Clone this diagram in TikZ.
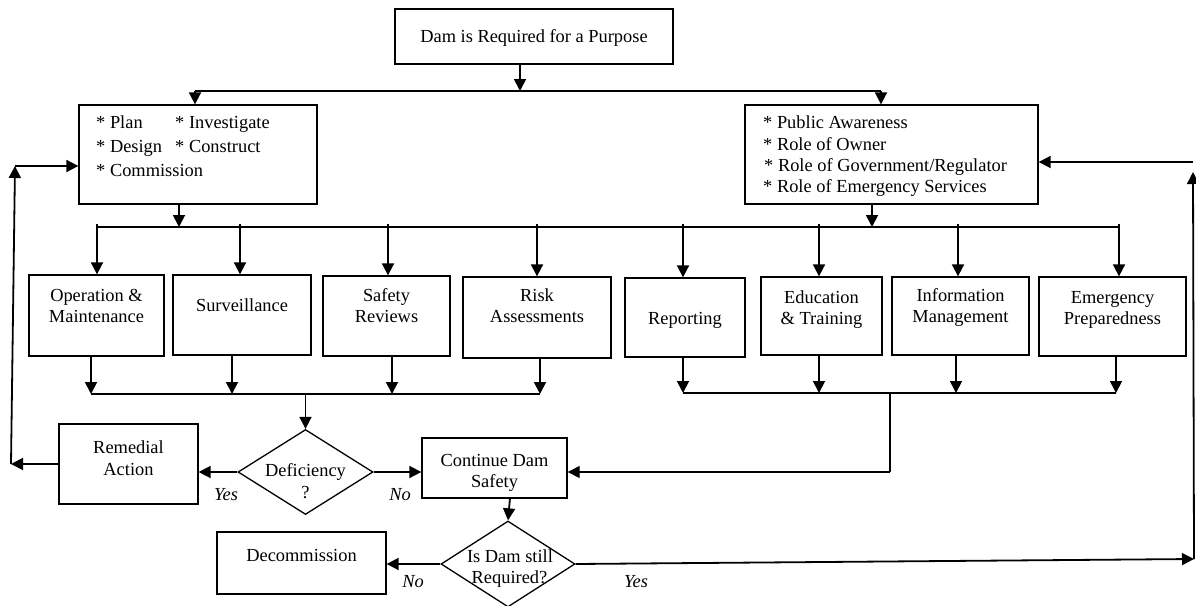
\documentclass[tikz,border=0pt]{standalone}
\usepackage{fontspec}
\setmainfont{Liberation Serif}
\usetikzlibrary{arrows.meta,shapes.geometric}
\begin{document}
\begin{tikzpicture}[x=1pt,y=-1pt,
  bx/.style={draw,line width=1.3pt,inner sep=0pt,rectangle},
  dm/.style={draw,line width=1.3pt,inner sep=0pt,diamond},
  t/.style={font=\fontsize{18.4}{21}\selectfont,inner sep=0pt,text height=13pt,text depth=4pt},
  lt/.style={t,anchor=west},
  it/.style={t,font=\fontsize{18.4}{21}\selectfont\itshape},
  arr/.style={line width=1.8pt,-{Triangle[length=12pt,width=12pt]}},
  thk/.style={line width=2.2pt},
  thn/.style={line width=1.2pt},
]
\useasboundingbox (0,0) rectangle (1196,605);

% boxes
\node[bx,minimum width=278pt,minimum height=55pt] (top) at (534,36.5) {};
\node[t] (topt) at (534,38) {Dam is Required for a Purpose};

\node[bx,minimum width=238pt,minimum height=99pt] (plan) at (198,154.5) {};
\node[lt] (p1) at (96,124) {* Plan};
\node[lt] (p2) at (175,124) {* Investigate};
\node[lt] (p3) at (96,148) {* Design};
\node[lt] (p4) at (175,148) {* Construct};
\node[lt] (p5) at (96,172) {* Commission};

\node[bx,minimum width=293pt,minimum height=99pt] (roles) at (891.5,154.5) {};
\node[lt] (r1) at (763,124) {* Public Awareness};
\node[lt] (r2) at (763,146) {* Role of Owner};
\node[lt] (r3) at (764,167) {* Role of Government/Regulator};
\node[lt] (r4) at (763,188) {* Role of Emergency Services};

\node[bx,minimum width=135pt,minimum height=81pt] (op) at (96.5,315.5) {};
\node[t] (op1) at (96.5,297) {Operation \&};
\node[t] (op2) at (96.5,318) {Maintenance};

\node[bx,minimum width=138pt,minimum height=80pt] (surv) at (242,315) {};
\node[t] (sv1) at (242,307) {Surveillance};

\node[bx,minimum width=127pt,minimum height=80pt] (safe) at (386.5,316) {};
\node[t] (sf1) at (386.5,297) {Safety};
\node[t] (sf2) at (386.5,318) {Reviews};

\node[bx,minimum width=148pt,minimum height=81pt] (risk) at (537,317.5) {};
\node[t] (rk1) at (537,297) {Risk};
\node[t] (rk2) at (537,318) {Assessments};

\node[bx,minimum width=120pt,minimum height=79pt] (rep) at (685,317.5) {};
\node[t] (rp1) at (685,320) {Reporting};

\node[bx,minimum width=121pt,minimum height=78pt] (edu) at (821.5,316) {};
\node[t] (ed1) at (821.5,299) {Education};
\node[t] (ed2) at (821.5,320) {\& Training};

\node[bx,minimum width=137pt,minimum height=78pt] (info) at (960.5,316) {};
\node[t] (in1) at (960.5,297) {Information};
\node[t] (in2) at (960.5,318) {Management};

\node[bx,minimum width=147pt,minimum height=79pt] (emer) at (1112.5,316.5) {};
\node[t] (em1) at (1112.5,299) {Emergency};
\node[t] (em2) at (1112.5,320) {Preparedness};

\node[bx,minimum width=139pt,minimum height=80pt] (rem) at (128.5,464) {};
\node[t] (rm1) at (128.5,449) {Remedial};
\node[t] (rm2) at (128.5,471) {Action};

\node[dm,minimum width=135pt,minimum height=85pt] (defi) at (305.5,472) {};
\node[t] (df1) at (305.5,472) {Deficiency};
\node[t] (df2) at (305.5,494) {?};

\node[bx,minimum width=145pt,minimum height=60pt] (cont) at (494.5,468) {};
\node[t] (ct1) at (494.5,462) {Continue Dam};
\node[t] (ct2) at (494.5,483) {Safety};

\node[dm,minimum width=134pt,minimum height=86pt] (isdam) at (508,564) {};
\node[t] (is1) at (510,558) {Is Dam still};
\node[t] (is2) at (509.5,579) {Required?};

\node[bx,minimum width=169pt,minimum height=62pt] (dec) at (301.5,563) {};
\node[t] (dc1) at (301.5,557) {Decommission};

\node[it] (yes1) at (226,496) {Yes};
\node[it] (no1) at (400,496) {No};
\node[it] (no2) at (413,583) {No};
\node[it] (yes2) at (636,583) {Yes};

% top branching
\coordinate (j1) at (520,91);
\coordinate (bl) at (195,91);
\coordinate (br) at (881,91);
\draw[arr] (top.south -| j1) -- (j1);
\draw[thk] (bl) -- (br);
\draw[arr] (bl) -- (bl |- plan.north);
\draw[arr] (br) -- (br |- roles.north);

% distribution line
\coordinate (j2) at (179,227);
\coordinate (j3) at (872,227);
\coordinate (dl) at (97,227);
\coordinate (dr) at (1119,227);
\draw[arr] (plan.south -| j2) -- (j2);
\draw[arr] (roles.south -| j3) -- (j3);
\draw[thn] (dl) -- (dr);
\foreach \x/\n in {97/op,240/surv,388/safe,537/risk,683/rep,819/edu,958/info,1119/emer}{
  \coordinate (c\n) at (\x,224);
  \draw[arr] (c\n) -- (c\n |- \n.north);
}

% merging lines
\foreach \x/\n/\y in {91/op/394,232/surv/394,392/safe/394,540/risk/394,683/rep/393,819/edu/393,956/info/393,1116/emer/393}{
  \coordinate (u\n) at (\x,\y);
  \draw[arr] (\n.south -| u\n) -- (u\n);
}
\draw[thn] (uop) -- (urisk);
\draw[thn] (urep) -- (uemer);
\coordinate (m1) at (305.5,394);
\draw[arr] (m1) -- (defi.north);
\coordinate (m2) at (890,393);
\coordinate (m3) at (890,472);
\draw[thn] (m2) -- (m3);
\draw[arr,line width=1.2pt] (m3) -- (m3 -| cont.east);

% decisions
\draw[arr] (defi.west) -- (defi.west -| rem.east);
\draw[arr] (defi.east) -- (defi.east -| cont.west);
\coordinate (f1) at (11,464);
\coordinate (f2) at (15,166);
\draw[arr] (rem.west) -- (f1);
\draw[arr] (f1) -- (f2);
\draw[arr] (f2) -- (f2 -| plan.west);

\coordinate (k1) at (510,498);
\draw[arr] (k1) -- (isdam.north);
\draw[arr] (isdam.west) -- (isdam.west -| dec.east);
\coordinate (g1) at (1194,559);
\coordinate (g2) at (1193,172);
\coordinate (g3) at (1193,162);
\draw[arr] (isdam.east) -- (g1);
\draw[arr] (g1) -- (g2);
\draw[arr] (g3) -- (g3 -| roles.east);
\end{tikzpicture}
\end{document}
